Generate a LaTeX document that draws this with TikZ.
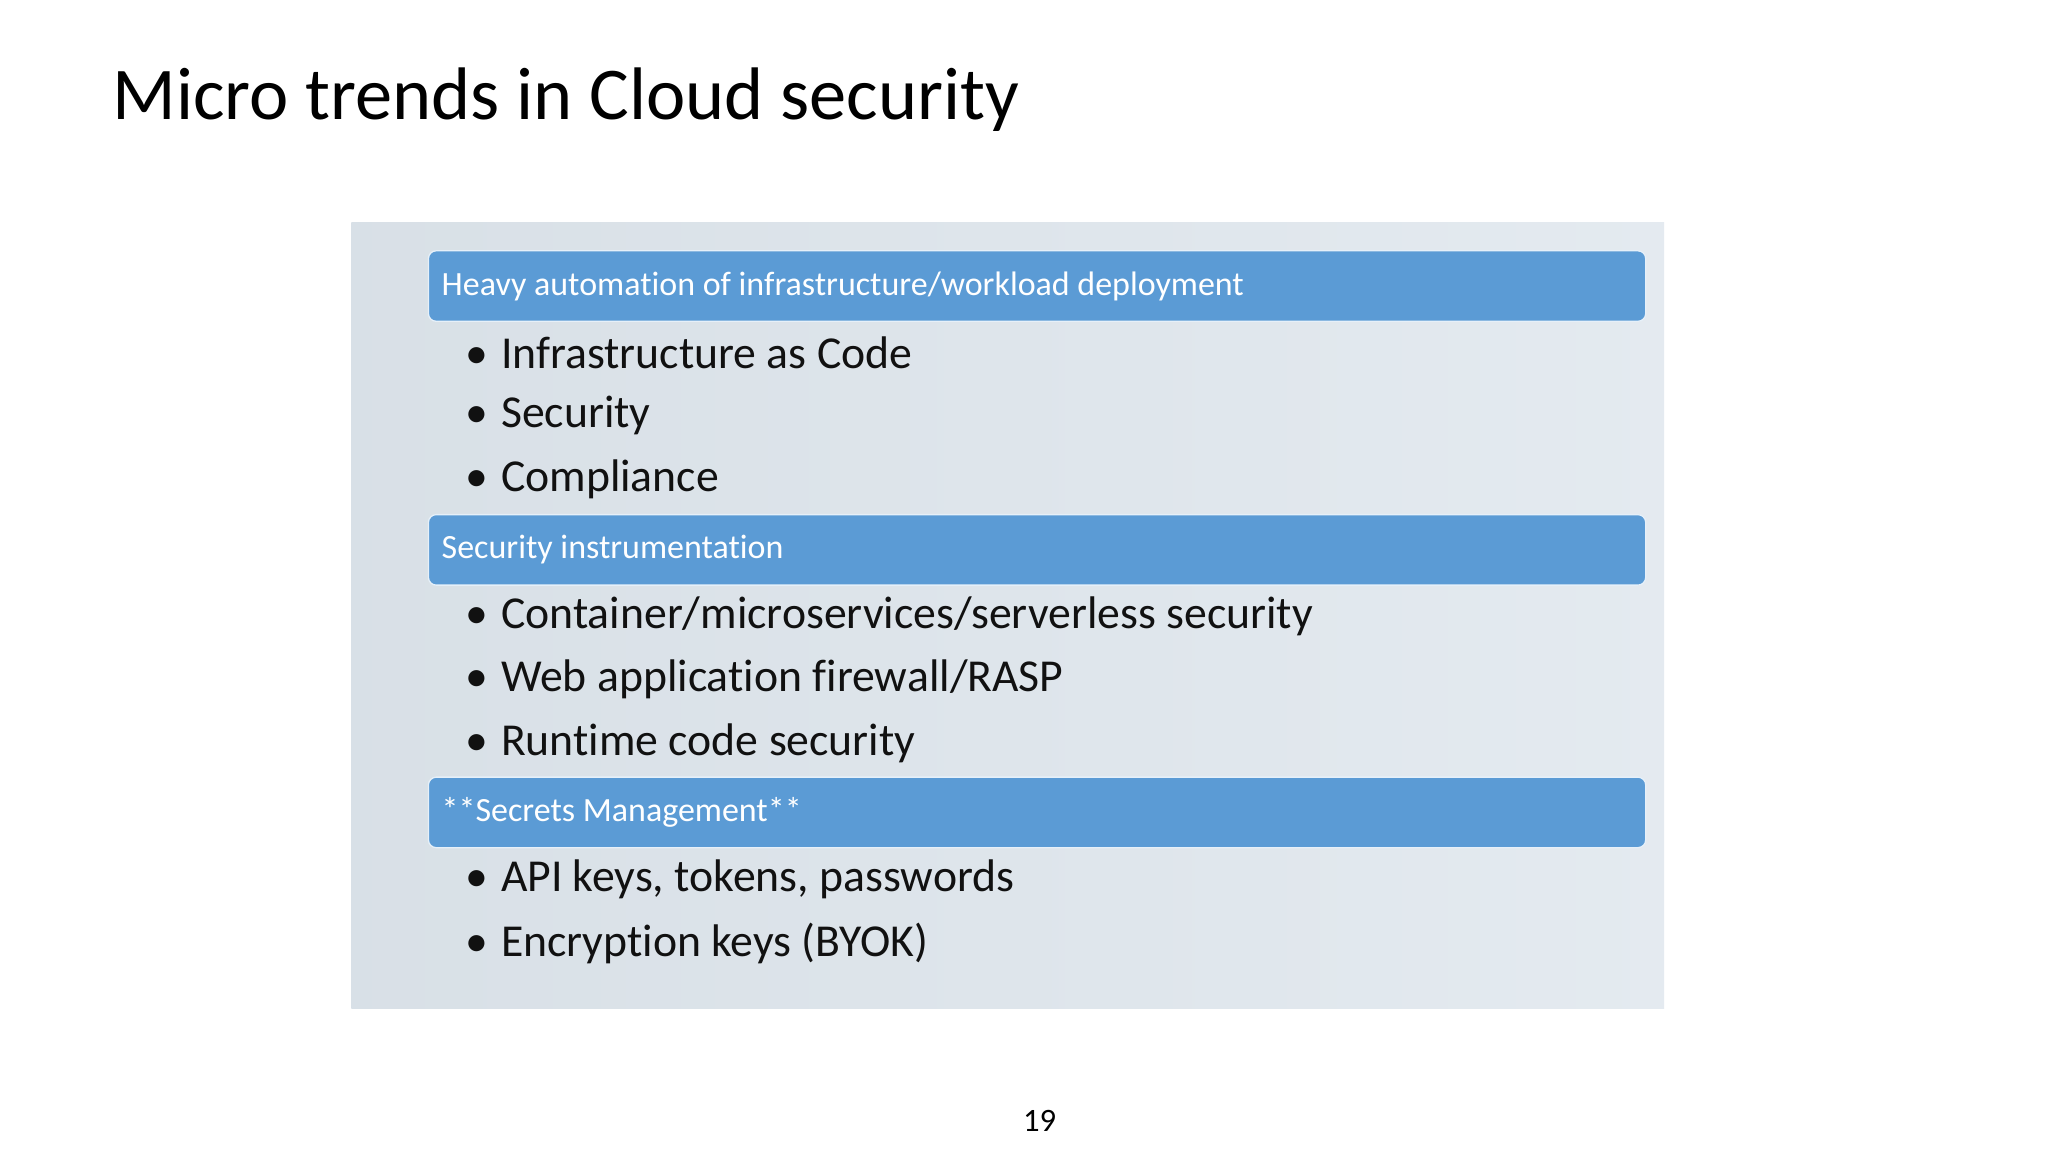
\documentclass[tikz,border=0pt]{standalone}
\usepackage{fontspec}
\setmainfont[Ligatures=NoCommon]{Carlito}
\definecolor{panel}{HTML}{DDE5EC}
\definecolor{bar}{HTML}{5B9BD5}
\definecolor{txt}{HTML}{111111}
\begin{document}
\begin{tikzpicture}[x=1pt,y=-1pt,
  hdr/.style={fill=bar,draw=white!85!bar,line width=1pt,rounded corners=6pt},
  hdrtext/.style={anchor=west,text=white,font=\fontsize{26}{30}\selectfont,inner sep=0pt},
  item/.style={anchor=west,text=txt,font=\fontsize{35}{40}\selectfont,inner sep=0pt}]
\useasboundingbox (0,0) rectangle (1568,882);
\fill[white] (0,0) rectangle (1568,882);
\node[anchor=west,inner sep=0pt,font=\fontsize{57}{64}\selectfont] (title) at (86,76) {Micro trends in Cloud security};
\shade[left color=panel!95!gray, right color=panel!80!white] (269,170) rectangle (1274,772);
\foreach \y/\t/\n in {219/{Heavy automation of infrastructure/workload deployment}/h1,421/{Security instrumentation}/h2,622/{**Secrets Management**}/h3}{
  \draw[hdr] (328,\y-27) rectangle (1260,\y+27);
  \node[hdrtext] (\n) at (338,\y) {\t};
}
\foreach \y/\t/\n in {270/{Infrastructure as Code}/i1,318/{Security}/i2,367/{Compliance}/i3,472/{Container/microservices/serverless security}/i4,520/{Web application firewall/RASP}/i5,569/{Runtime code security}/i6,673/{API keys, tokens, passwords}/i7,722/{Encryption keys (BYOK)}/i8}{
  \node[item] (\n) at (356,\y) {•\hspace{10pt}\t};
}
\node[inner sep=0pt,font=\fontsize{25}{28}\selectfont] (page) at (796,858) {19};
\end{tikzpicture}
\end{document}
